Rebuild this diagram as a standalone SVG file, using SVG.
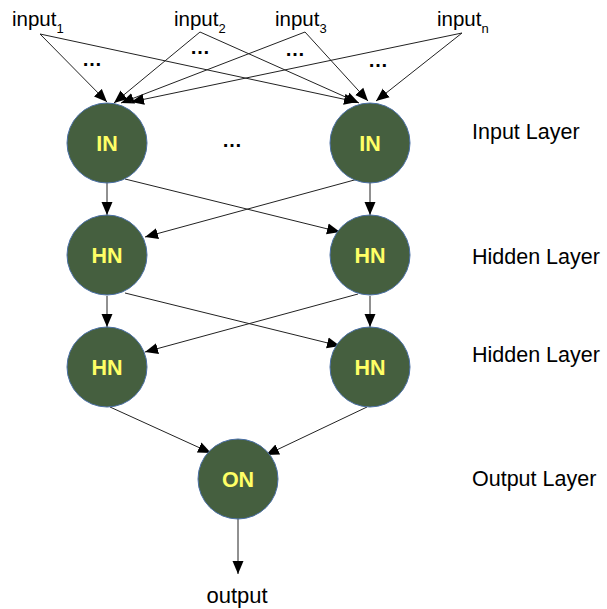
<svg xmlns="http://www.w3.org/2000/svg" width="607" height="609" viewBox="0 0 607 609">
<style>
.lbl{font-family:"Liberation Sans",Arial,sans-serif;font-size:20.5px;fill:#000}
.out{font-family:"Liberation Sans",Arial,sans-serif;font-size:22px;fill:#000;text-anchor:middle}
.sub{font-family:"Liberation Sans",Arial,sans-serif;font-size:13px;fill:#000}
.lay{font-family:"Liberation Sans",Arial,sans-serif;font-size:21.5px;fill:#000}
.dots{font-family:"Liberation Sans",Arial,sans-serif;font-size:20px;font-weight:bold;fill:#000;text-anchor:middle}
.node circle{fill:#455f3f;stroke:#4a6fa5;stroke-width:1}
.node text{font-family:"Liberation Sans",Arial,sans-serif;font-size:21.5px;font-weight:bold;fill:#ffff66;text-anchor:middle}
.edge{stroke:#222;stroke-width:1;fill:none;marker-end:url(#arr)}
</style>
<defs>
<marker id="arr" markerUnits="userSpaceOnUse" markerWidth="14" markerHeight="12" refX="13" refY="6" orient="auto">
<path d="M0,0.5 L13,6 L0,11.5 z" fill="#000"/>
</marker>
</defs>
<rect width="607" height="609" fill="#fff"/>

<g id="labels">
<text class="lbl" x="12" y="26">input<tspan class="sub" dy="7">1</tspan></text>
<text class="lbl" x="174" y="26">input<tspan class="sub" dy="7">2</tspan></text>
<text class="lbl" x="275" y="26">input<tspan class="sub" dy="7">3</tspan></text>
<text class="lbl" x="437" y="26">input<tspan class="sub" dy="7" fill="#1f3a6e">n</tspan></text>
<text class="dots" x="92" y="66">…</text>
<text class="dots" x="200" y="54">…</text>
<text class="dots" x="295" y="56">…</text>
<text class="dots" x="378" y="67">…</text>
<text class="dots" x="232" y="147">…</text>
<text class="lay" x="472" y="139">Input Layer</text>
<text class="lay" x="472" y="264">Hidden Layer</text>
<text class="lay" x="472" y="362">Hidden Layer</text>
<text class="lay" x="472" y="486">Output Layer</text>
<text class="out" x="237" y="603">output</text>
</g>

<g id="connectors">
<line class="edge" x1="40" y1="34" x2="107" y2="102"/>
<line class="edge" x1="40" y1="34" x2="357" y2="102"/>
<line class="edge" x1="200" y1="32" x2="114" y2="103"/>
<line class="edge" x1="200" y1="32" x2="359" y2="103"/>
<line class="edge" x1="305" y1="32" x2="121" y2="103"/>
<line class="edge" x1="305" y1="32" x2="368" y2="101"/>
<line class="edge" x1="462" y1="33" x2="131" y2="102"/>
<line class="edge" x1="462" y1="33" x2="376" y2="101"/>

<line class="edge" x1="107" y1="183" x2="107" y2="215"/>
<line class="edge" x1="125" y1="179" x2="340" y2="232"/>
<line class="edge" x1="358" y1="179" x2="145" y2="237"/>
<line class="edge" x1="370" y1="183" x2="370" y2="215"/>

<line class="edge" x1="107" y1="296" x2="107" y2="327"/>
<line class="edge" x1="125" y1="293" x2="340" y2="346"/>
<line class="edge" x1="358" y1="294" x2="145" y2="352"/>
<line class="edge" x1="370" y1="296" x2="370" y2="327"/>

<line class="edge" x1="110" y1="407" x2="211" y2="453"/>
<line class="edge" x1="367" y1="407" x2="266" y2="455"/>
<line class="edge" x1="238" y1="519" x2="238" y2="574"/>
</g>

<g id="in1" class="node"><circle cx="107" cy="143" r="40"/><text x="107" y="151">IN</text></g>
<g id="in2" class="node"><circle cx="370" cy="143" r="40"/><text x="370" y="151">IN</text></g>
<g id="hn11" class="node"><circle cx="107" cy="255" r="40"/><text x="107" y="263">HN</text></g>
<g id="hn12" class="node"><circle cx="370" cy="255" r="40"/><text x="370" y="263">HN</text></g>
<g id="hn21" class="node"><circle cx="107" cy="367" r="40"/><text x="107" y="375">HN</text></g>
<g id="hn22" class="node"><circle cx="370" cy="367" r="40"/><text x="370" y="375">HN</text></g>
<g id="on" class="node"><circle cx="238" cy="479" r="40"/><text x="238" y="487">ON</text></g>
</svg>
